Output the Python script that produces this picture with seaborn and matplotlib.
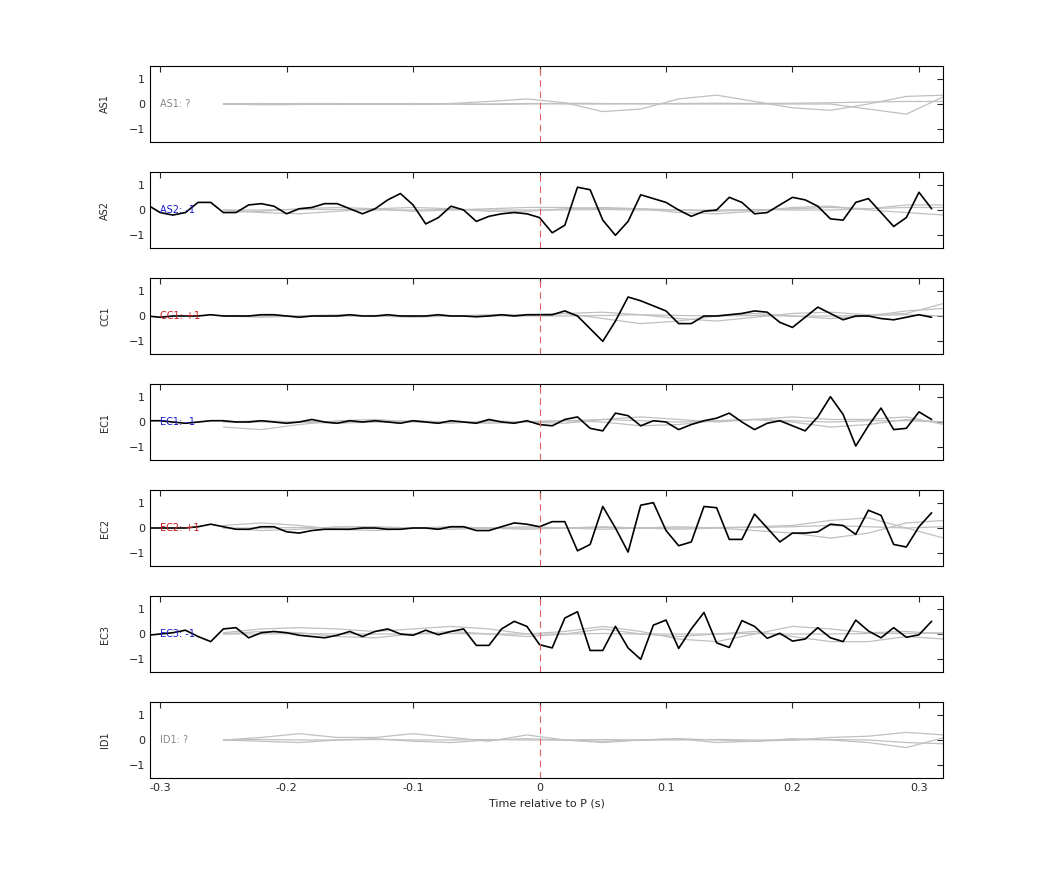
import numpy as np
import pandas as pd
import matplotlib
matplotlib.use("Agg")
import matplotlib.pyplot as plt
import seaborn as sns

sns.set_style("white")
plt.rcParams['font.family'] = ['DejaVu Sans']

stations = ["AS1", "AS2", "CC1", "EC1", "EC2", "EC3", "ID1"]
polarity = ["?", "-1", "+1", "-1", "+1", "-1", "?"]
pol_colors = {"?": "#888888", "-1": "#1a1acc", "+1": "#cc1a1a"}

# black traces, sampled every 0.01 s starting at t0
as2_t0 = -0.31
as2 = [0.2, -0.1, -0.2, -0.1, 0.3, 0.3, -0.1, -0.1, 0.2, 0.25, 0.15, -0.15, 0.05, 0.1, 0.25, 0.25,
       0.05, -0.15, 0.05, 0.4, 0.65, 0.2, -0.55, -0.3, 0.15, 0.0, -0.45, -0.25, -0.15, -0.1, -0.15, -0.3,
       -0.9, -0.6, 0.9, 0.8, -0.4, -1.0, -0.45, 0.6, 0.45, 0.3, 0.0, -0.25, -0.05, 0.0, 0.5, 0.3,
       -0.15, -0.1, 0.2, 0.5, 0.4, 0.15, -0.35, -0.4, 0.3, 0.45, -0.1, -0.65, -0.3, 0.7, 0.05]
cc1_t0 = -0.32
cc1 = [0.0, 0.0, -0.05, 0.0, 0.0, 0.0, 0.05, 0.0, 0.0, 0.0, 0.05, 0.05, 0.0, -0.05, 0.0, 0.0,
       0.0, 0.05, 0.0, 0.0, 0.05, 0.0, 0.0, 0.0, 0.05, 0.0, 0.0, -0.03, 0.0, 0.05, 0.0, 0.05,
       0.05, 0.05, 0.2, 0.0, -0.5, -1.0, -0.2, 0.75, 0.6, 0.4, 0.2, -0.3, -0.3, 0.0, 0.0, 0.05,
       0.1, 0.2, 0.15, -0.25, -0.45, -0.05, 0.35, 0.1, -0.15, 0.0, 0.0, -0.1, -0.15, -0.05, 0.05, -0.05]
ec1_t0 = -0.32
ec1 = [-0.05, 0.05, 0.05, 0.0, -0.05, 0.0, 0.05, 0.05, 0.0, 0.0, 0.05, 0.0, -0.05, 0.0, 0.1, 0.0,
       -0.05, 0.05, 0.0, 0.05, 0.0, -0.05, 0.05, 0.0, -0.05, 0.05, 0.0, -0.05, 0.1, 0.0, -0.05, 0.05,
       -0.1, -0.15, 0.1, 0.2, -0.25, -0.35, 0.35, 0.25, -0.15, 0.05, 0.0, -0.3, -0.1, 0.05, 0.15, 0.35,
       0.0, -0.3, -0.05, 0.05, -0.15, -0.35, 0.2, 1.0, 0.3, -0.95, -0.15, 0.55, -0.3, -0.25, 0.4, 0.1]
ec2_t0 = -0.32
ec2 = [-0.1, 0.0, 0.0, 0.0, 0.0, 0.05, 0.15, 0.05, -0.05, -0.05, 0.05, 0.05, -0.15, -0.2, -0.1, -0.05,
       -0.05, -0.05, 0.0, 0.0, -0.05, -0.05, 0.0, 0.0, -0.05, 0.05, 0.05, -0.1, -0.1, 0.05, 0.2, 0.15,
       0.05, 0.25, 0.25, -0.9, -0.65, 0.85, 0.0, -0.95, 0.9, 1.0, -0.1, -0.7, -0.55, 0.85, 0.8, -0.45,
       -0.45, 0.55, 0.0, -0.55, -0.2, -0.2, -0.15, 0.15, 0.1, -0.25, 0.7, 0.5, -0.65, -0.75, 0.05, 0.6]
ec3_t0 = -0.31
ec3 = [-0.05, 0.0, 0.05, 0.15, -0.1, -0.3, 0.2, 0.25, -0.15, 0.05, 0.1, 0.05, -0.05, -0.1, -0.15, -0.05,
       0.1, -0.1, 0.1, 0.2, 0.0, -0.05, 0.15, -0.03, 0.1, 0.2, -0.45, -0.45, 0.2, 0.5, 0.3, -0.42,
       -0.55, 0.63, 0.88, -0.65, -0.65, 0.3, -0.55, -1.0, 0.35, 0.55, -0.57, 0.2, 0.85, -0.35, -0.53, 0.53,
       0.3, -0.17, 0.03, -0.28, -0.2, 0.25, -0.15, -0.3, 0.55, 0.12, -0.15, 0.25, -0.13, -0.03, 0.5]
black = {"AS2": (as2_t0, as2), "CC1": (cc1_t0, cc1), "EC1": (ec1_t0, ec1),
         "EC2": (ec2_t0, ec2), "EC3": (ec3_t0, ec3)}

# grey synthetic traces, sampled every 0.03 s from -0.25
grey_t0 = -0.25
grey = {
    "AS1": [[0, 0.02, 0, -0.02, 0, 0, 0.02, 0.1, 0.2, 0.05, -0.3, -0.2, 0.2, 0.35, 0.1, -0.15, -0.25, 0.0, 0.3, 0.35],
            [0, -0.03, -0.02, 0, 0, -0.02, 0, 0, 0.02, 0, 0, 0.02, 0, 0, 0, 0, 0, -0.2, -0.4, 0.3],
            [0, 0, 0.02, 0.02, 0, 0.02, 0, -0.02, 0, 0.03, 0.02, 0, 0.02, 0.03, 0.02, 0.03, 0.05, 0.08, 0.1, 0.1]],
    "AS2": [[-0.1, -0.05, 0.05, 0.1, 0.05, -0.05, 0.0, 0.05, 0.1, 0.1, 0.05, 0.05, 0.0, -0.05, 0.0, 0.05, 0.1, 0.05, 0.2, 0.2],
            [0, -0.1, -0.15, -0.05, 0.05, 0.1, 0.05, -0.05, -0.05, 0.05, 0.1, 0.05, -0.1, -0.15, -0.05, 0.1, 0.15, 0.0, -0.1, -0.2],
            [0, 0, 0.02, 0.02, 0, 0, 0.02, 0, 0, 0, 0.02, 0, 0, 0, 0.02, 0, 0, 0.05, 0.1, 0.1]],
    "CC1": [[0, -0.05, 0, 0.05, 0, -0.05, 0, 0.05, 0.05, 0.1, 0.15, 0.05, -0.1, -0.2, -0.05, 0.1, 0.15, 0.05, 0.1, 0.5],
            [0, 0, 0, 0, 0, 0, 0, 0, 0.02, 0.1, -0.1, -0.3, -0.2, 0.0, 0.1, 0.0, -0.1, 0.0, 0.2, 0.3],
            [0, 0.02, 0, 0, 0.02, 0, 0, 0.02, 0, 0, 0.02, 0.05, 0.02, 0, 0.02, 0, 0, 0.02, 0.05, 0.0]],
    "EC1": [[-0.2, -0.3, -0.1, 0.05, 0.1, 0.0, -0.05, 0.05, 0.0, -0.05, 0.1, 0.2, 0.1, 0.0, 0.1, 0.2, 0.1, 0.1, 0.2, -0.1],
            [0, 0.05, 0.0, -0.05, 0.0, 0.05, 0.0, -0.05, 0.0, 0.05, 0.0, -0.15, -0.1, 0.05, 0.1, 0.0, -0.2, -0.1, 0.1, 0.0],
            [0, 0, 0.02, 0, 0, 0.02, 0, 0, 0.02, 0.05, 0.1, 0.05, 0.0, 0.05, 0.1, 0.05, 0.0, 0.05, 0.05, 0.0]],
    "EC2": [[0.1, 0.2, 0.1, -0.05, -0.1, 0.0, 0.05, 0.0, -0.05, 0.0, 0.05, 0.0, -0.05, 0.0, 0.05, 0.1, 0.3, 0.4, 0.0, -0.4],
            [0, -0.1, -0.05, 0.05, 0.05, 0.0, -0.05, 0.0, 0.05, 0.0, -0.05, 0.0, 0.05, 0.0, -0.1, -0.2, -0.4, -0.2, 0.2, 0.3],
            [0, 0, 0.02, 0, 0, 0, 0.02, 0, 0, 0, 0.02, 0, 0, 0.02, 0.02, 0.05, 0.1, 0.05, 0.0, 0.05]],
    "EC3": [[0.05, 0.2, 0.25, 0.2, 0.1, 0.2, 0.3, 0.2, 0.0, 0.1, 0.3, 0.1, -0.2, -0.3, 0.0, 0.3, 0.2, 0.05, 0.1, 0.0],
            [0, 0.1, 0.05, -0.1, -0.15, 0.0, 0.1, 0.0, -0.1, 0.0, 0.2, 0.0, -0.1, 0.0, 0.1, -0.1, -0.3, -0.3, -0.1, -0.2],
            [0, 0, 0.02, 0, 0, 0, 0.02, 0, 0, 0, 0.02, 0, 0, 0, 0.02, 0, 0, 0.02, 0.02, 0.05]],
    "ID1": [[0, 0.1, 0.25, 0.1, 0.1, 0.25, 0.1, -0.05, 0.2, 0.0, -0.1, 0.0, 0.05, -0.1, -0.05, 0.05, 0.0, -0.1, -0.3, 0.1],
            [0, -0.05, -0.1, 0.0, 0.05, -0.05, -0.1, 0.0, 0.05, 0.0, -0.05, 0.0, 0.05, 0.0, -0.05, 0.0, 0.1, 0.15, 0.3, 0.2],
            [0, 0.02, 0, 0, 0.02, 0, 0, 0.02, 0, 0, 0.02, 0, 0, 0.02, 0, 0, 0.02, 0, -0.1, -0.15]],
}

fig = plt.figure(figsize=(10.42, 8.75), dpi=100)
W, H = 1042, 875
left, right = 150, 943
tops = [66, 172, 278, 384, 490, 596, 702]
ph = 76

for i, st in enumerate(stations):
    ax = fig.add_axes([left / W, 1 - (tops[i] + ph) / H, (right - left) / W, ph / H])
    for j, g in enumerate(grey[st]):
        df = pd.DataFrame({"t": grey_t0 + 0.03 * np.arange(len(g)), "v": g})
        sns.lineplot(data=df, x="t", y="v", ax=ax, color="#c0c0c0", lw=0.9, legend=False)
    if st in black:
        t0, vals = black[st]
        df = pd.DataFrame({"t": t0 + 0.01 * np.arange(len(vals)), "v": vals})
        sns.lineplot(data=df, x="t", y="v", ax=ax, color="black", lw=1.2, legend=False)
    ax.axvline(0, color="#e06060", lw=0.8, ls=(0, (6, 4)))
    ax.set_xlim(-0.308, 0.319)
    ax.set_ylim(-1.5, 1.5)
    ax.set_yticks([-1, 0, 1])
    ax.set_xticks([-0.3, -0.2, -0.1, 0, 0.1, 0.2, 0.3])
    ax.tick_params(direction="in", top=True, right=True, labelsize=8, length=4)
    ax.set_ylabel(st, fontsize=7)
    ax.yaxis.set_label_coords(-0.05, 0.5)
    ax.set_xlabel("")
    for s in ax.spines.values():
        s.set_color("black")
        s.set_linewidth(0.8)
    ax.text(-0.30, 0, f"{st}: {polarity[i]}", fontsize=7, color=pol_colors[polarity[i]],
            va="center", ha="left")
    if i < len(stations) - 1:
        ax.set_xticklabels([])
    else:
        ax.set_xticklabels(["-0.3", "-0.2", "-0.1", "0", "0.1", "0.2", "0.3"])
        ax.set_xlabel("Time relative to P (s)", fontsize=8)

fig.savefig("out.png", dpi=100)
